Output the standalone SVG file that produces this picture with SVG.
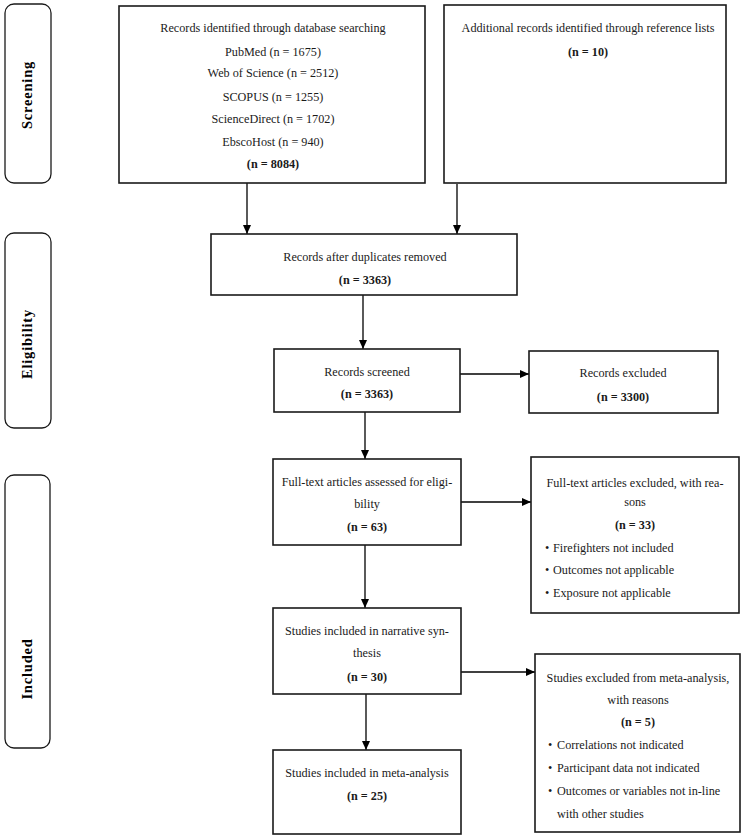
<svg xmlns="http://www.w3.org/2000/svg" width="742" height="838" viewBox="0 0 742 838">
<defs>
<marker id="ah" markerWidth="10" markerHeight="8" refX="9" refY="4" orient="auto" markerUnits="userSpaceOnUse">
<path d="M0,0 L9,4 L0,8 Z" fill="#000"/>
</marker>
<style>
.box{fill:#fff;stroke:#1a1a1a;stroke-width:1.6}
.lab{fill:#fff;stroke:#1a1a1a;stroke-width:1.3}
.t{font-family:"Liberation Serif","Times New Roman",serif;font-size:12.2px;fill:#1a1a1a;text-anchor:middle}
.tl{text-anchor:start}
.b{font-weight:bold}
.side{font-family:"Liberation Serif","Times New Roman",serif;font-size:14.5px;font-weight:bold;fill:#000;text-anchor:middle;letter-spacing:0.8px}
.c{stroke:#000;stroke-width:1.3;fill:none;marker-end:url(#ah)}
</style>
</defs>
<rect width="742" height="838" fill="#fff"/>

<g id="stage-screening">
<rect class="lab" x="5" y="4" width="46" height="179" rx="9"/>
<text class="side" transform="translate(32,95) rotate(-90)">Screening</text>
</g>
<g id="stage-eligibility">
<rect class="lab" x="5" y="233" width="46" height="195" rx="9"/>
<text class="side" transform="translate(32,344) rotate(-90)">Eligibility</text>
</g>
<g id="stage-included">
<rect class="lab" x="5" y="475" width="45" height="273" rx="9"/>
<text class="side" transform="translate(32,669) rotate(-90)">Included</text>
</g>

<g id="connectors">
<line class="c" x1="247" y1="183" x2="247" y2="234"/>
<line class="c" x1="457" y1="184" x2="457" y2="234"/>
<line class="c" x1="363" y1="295" x2="363" y2="349"/>
<line class="c" x1="460" y1="374" x2="529" y2="374"/>
<line class="c" x1="365" y1="412" x2="365" y2="459"/>
<line class="c" x1="461" y1="502" x2="531" y2="502"/>
<line class="c" x1="365" y1="545" x2="365" y2="608"/>
<line class="c" x1="461" y1="672" x2="535" y2="672"/>
<line class="c" x1="366" y1="694" x2="366" y2="750"/>
</g>

<g id="records-identified">
<rect class="box" x="119" y="6" width="306" height="177"/>
<text class="t" x="273" y="32">Records identified through database searching</text>
<text class="t" x="273" y="56">PubMed (n = 1675)</text>
<text class="t" x="273" y="77">Web of Science (n = 2512)</text>
<text class="t" x="273" y="101">SCOPUS (n = 1255)</text>
<text class="t" x="273" y="123">ScienceDirect (n = 1702)</text>
<text class="t" x="273" y="146">EbscoHost (n = 940)</text>
<text class="t b" x="273" y="168">(n = 8084)</text>
</g>

<g id="additional-records">
<rect class="box" x="444" y="5" width="282" height="178"/>
<text class="t" x="588" y="32">Additional records identified through reference lists</text>
<text class="t b" x="588" y="56">(n = 10)</text>
</g>

<g id="after-duplicates">
<rect class="box" x="211" y="234" width="306" height="61"/>
<text class="t" x="365" y="261">Records after duplicates removed</text>
<text class="t b" x="365" y="284">(n = 3363)</text>
</g>

<g id="records-screened">
<rect class="box" x="274" y="349" width="186" height="63"/>
<text class="t" x="367" y="376">Records screened</text>
<text class="t b" x="367" y="398">(n = 3363)</text>
</g>

<g id="records-excluded">
<rect class="box" x="529" y="351" width="189" height="62"/>
<text class="t" x="623" y="377">Records excluded</text>
<text class="t b" x="623" y="401">(n = 3300)</text>
</g>

<g id="fulltext-assessed">
<rect class="box" x="273" y="459" width="188" height="86"/>
<text class="t" x="367" y="486">Full-text articles assessed for eligi-</text>
<text class="t" x="367" y="508">bility</text>
<text class="t b" x="367" y="531">(n = 63)</text>
</g>

<g id="fulltext-excluded">
<rect class="box" x="531" y="457" width="208" height="156"/>
<text class="t" x="635" y="487">Full-text articles excluded, with rea-</text>
<text class="t" x="635" y="506">sons</text>
<text class="t b" x="635" y="529">(n = 33)</text>
<text class="t tl" x="545" y="552">•</text>
<text class="t tl" x="553" y="552">Firefighters not included</text>
<text class="t tl" x="545" y="574">•</text>
<text class="t tl" x="553" y="574">Outcomes not applicable</text>
<text class="t tl" x="545" y="597">•</text>
<text class="t tl" x="553" y="597">Exposure not applicable</text>
</g>

<g id="narrative-synthesis">
<rect class="box" x="273" y="608" width="188" height="86"/>
<text class="t" x="367" y="635">Studies included in narrative syn-</text>
<text class="t" x="367" y="657">thesis</text>
<text class="t b" x="367" y="681">(n = 30)</text>
</g>

<g id="meta-excluded">
<rect class="box" x="535" y="654" width="205" height="178"/>
<text class="t" x="638" y="682">Studies excluded from meta-analysis,</text>
<text class="t" x="638" y="704">with reasons</text>
<text class="t b" x="638" y="726">(n = 5)</text>
<text class="t tl" x="548" y="749">•</text>
<text class="t tl" x="557" y="749">Correlations not indicated</text>
<text class="t tl" x="548" y="772">•</text>
<text class="t tl" x="557" y="772">Participant data not indicated</text>
<text class="t tl" x="548" y="795">•</text>
<text class="t tl" x="557" y="795">Outcomes or variables not in-line</text>
<text class="t tl" x="557" y="818">with other studies</text>
</g>

<g id="meta-included">
<rect class="box" x="273" y="750" width="188" height="84"/>
<text class="t" x="367" y="777">Studies included in meta-analysis</text>
<text class="t b" x="367" y="800">(n = 25)</text>
</g>
</svg>
